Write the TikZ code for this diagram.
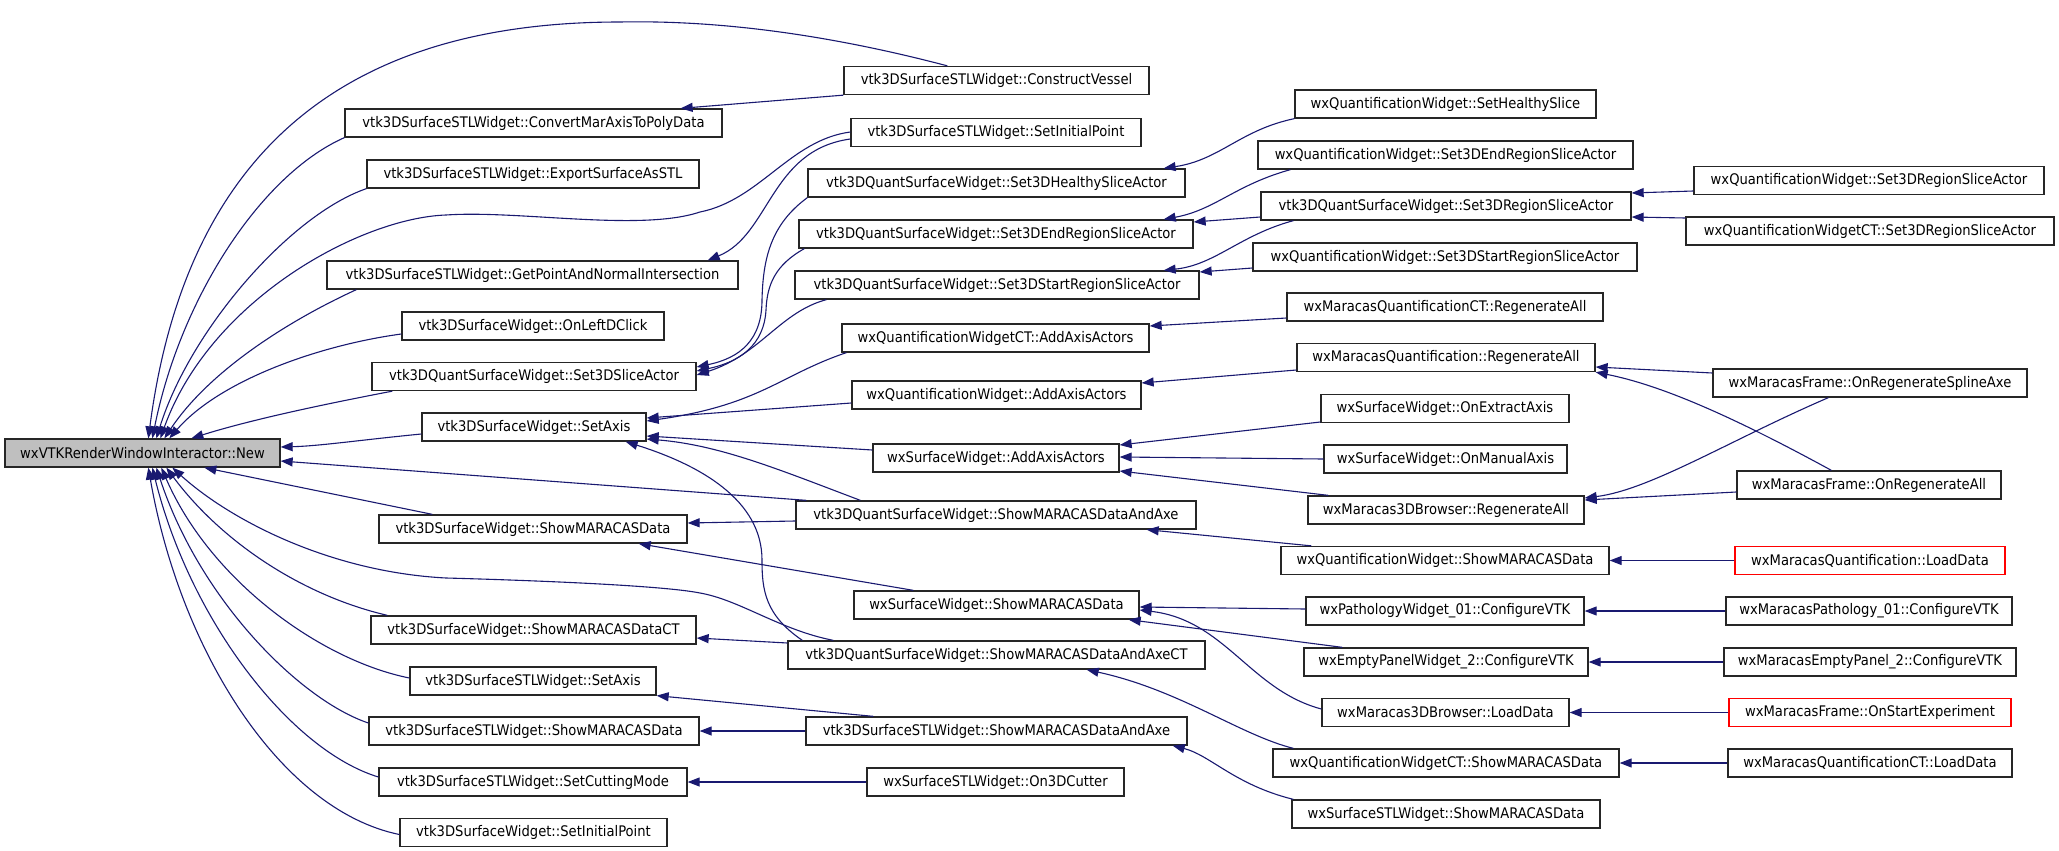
\documentclass[tikz,border=0pt]{standalone}
\usepackage{fontspec}
\setmainfont{DejaVu Sans Condensed}
\usetikzlibrary{arrows.meta}
\definecolor{edgec}{RGB}{25,25,112}
\definecolor{rootfill}{RGB}{191,191,191}
\tikzset{
  fn/.style={draw=black!85, line width=1.3pt, minimum height=28pt, inner sep=0pt, font=\fontsize{14.6pt}{17pt}\selectfont, anchor=center},
  redn/.style={fn, draw=red},
  cl/.style={draw=edgec, line width=1.1pt, -{Triangle[length=12pt,width=9pt]}},
}
\begin{document}
\begin{tikzpicture}[x=1pt,y=-1pt]
\useasboundingbox (0,0) rectangle (2059,851);
% column 0
\node[fn, fill=rootfill, minimum width=275pt] (root) at (142.5,453) {wxVTKRenderWindowInteractor::New};
% column 1
\node[fn, minimum width=377pt] (cm) at (533.5,123) {vtk3DSurfaceSTLWidget::ConvertMarAxisToPolyData};
\node[fn, minimum width=332pt] (ex) at (533,174) {vtk3DSurfaceSTLWidget::ExportSurfaceAsSTL};
\node[fn, minimum width=411pt] (gp) at (532.5,275) {vtk3DSurfaceSTLWidget::GetPointAndNormalIntersection};
\node[fn, minimum width=262pt] (ld) at (533,326) {vtk3DSurfaceWidget::OnLeftDClick};
\node[fn, minimum width=324pt] (sa) at (534,376.5) {vtk3DQuantSurfaceWidget::Set3DSliceActor};
\node[fn, minimum width=224pt] (ax) at (534,427) {vtk3DSurfaceWidget::SetAxis};
\node[fn, minimum width=308pt] (smd) at (533,529) {vtk3DSurfaceWidget::ShowMARACASData};
\node[fn, minimum width=325pt] (smdct) at (533.5,630) {vtk3DSurfaceWidget::ShowMARACASDataCT};
\node[fn, minimum width=246pt] (sax) at (533,681) {vtk3DSurfaceSTLWidget::SetAxis};
\node[fn, minimum width=330pt] (ssmd) at (534,731) {vtk3DSurfaceSTLWidget::ShowMARACASData};
\node[fn, minimum width=308pt] (scm) at (533,782) {vtk3DSurfaceSTLWidget::SetCuttingMode};
\node[fn, minimum width=267pt] (swip) at (533.5,832.5) {vtk3DSurfaceWidget::SetInitialPoint};
% column 2
\node[fn, minimum width=305pt] (cv) at (996.5,80.5) {vtk3DSurfaceSTLWidget::ConstructVessel};
\node[fn, minimum width=290pt] (sip) at (996,132.5) {vtk3DSurfaceSTLWidget::SetInitialPoint};
\node[fn, minimum width=377pt] (hs) at (996.5,183) {vtk3DQuantSurfaceWidget::Set3DHealthySliceActor};
\node[fn, minimum width=394pt] (er) at (996,234) {vtk3DQuantSurfaceWidget::Set3DEndRegionSliceActor};
\node[fn, minimum width=404pt] (sr) at (997,285) {vtk3DQuantSurfaceWidget::Set3DStartRegionSliceActor};
\node[fn, minimum width=307pt] (qcaa) at (995.5,338) {wxQuantificationWidgetCT::AddAxisActors};
\node[fn, minimum width=289pt] (qaa) at (996.5,395) {wxQuantificationWidget::AddAxisActors};
\node[fn, minimum width=246pt] (saa) at (996,458) {wxSurfaceWidget::AddAxisActors};
\node[fn, minimum width=400pt] (sda) at (996,515) {vtk3DQuantSurfaceWidget::ShowMARACASDataAndAxe};
\node[fn, minimum width=285pt] (wsmd) at (996.5,605) {wxSurfaceWidget::ShowMARACASData};
\node[fn, minimum width=417pt] (sdact) at (996.5,655) {vtk3DQuantSurfaceWidget::ShowMARACASDataAndAxeCT};
\node[fn, minimum width=381pt] (ssda) at (996.5,731) {vtk3DSurfaceSTLWidget::ShowMARACASDataAndAxe};
\node[fn, minimum width=257pt] (cut) at (995.5,782) {wxSurfaceSTLWidget::On3DCutter};
% column 3
\node[fn, minimum width=301pt] (qhs) at (1445.5,104) {wxQuantificationWidget::SetHealthySlice};
\node[fn, minimum width=375pt] (qer) at (1445.5,155) {wxQuantificationWidget::Set3DEndRegionSliceActor};
\node[fn, minimum width=370pt] (rs) at (1446,206) {vtk3DQuantSurfaceWidget::Set3DRegionSliceActor};
\node[fn, minimum width=384pt] (qsr) at (1445,257) {wxQuantificationWidget::Set3DStartRegionSliceActor};
\node[fn, minimum width=316pt] (mqcra) at (1445,307) {wxMaracasQuantificationCT::RegenerateAll};
\node[fn, minimum width=298pt] (mqra) at (1446,357.5) {wxMaracasQuantification::RegenerateAll};
\node[fn, minimum width=248pt] (oea) at (1445,408.5) {wxSurfaceWidget::OnExtractAxis};
\node[fn, minimum width=243pt] (oma) at (1445.5,459) {wxSurfaceWidget::OnManualAxis};
\node[fn, minimum width=276pt] (m3ra) at (1446,510) {wxMaracas3DBrowser::RegenerateAll};
\node[fn, minimum width=328pt] (qsmd) at (1445,560.5) {wxQuantificationWidget::ShowMARACASData};
\node[fn, minimum width=278pt] (pw) at (1445,611) {wxPathologyWidget\_01::ConfigureVTK};
\node[fn, minimum width=284pt] (ep) at (1446,662) {wxEmptyPanelWidget\_2::ConfigureVTK};
\node[fn, minimum width=247pt] (m3ld) at (1445.5,712.5) {wxMaracas3DBrowser::LoadData};
\node[fn, minimum width=346pt] (qcsmd) at (1446,763) {wxQuantificationWidgetCT::ShowMARACASData};
\node[fn, minimum width=308pt] (stsmd) at (1446,814) {wxSurfaceSTLWidget::ShowMARACASData};
% column 4
\node[fn, minimum width=350pt] (qrs) at (1869,180.5) {wxQuantificationWidget::Set3DRegionSliceActor};
\node[fn, minimum width=368pt] (qcrs) at (1870,231) {wxQuantificationWidgetCT::Set3DRegionSliceActor};
\node[fn, minimum width=314pt] (ors) at (1870,383) {wxMaracasFrame::OnRegenerateSplineAxe};
\node[fn, minimum width=264pt] (ora) at (1869,485) {wxMaracasFrame::OnRegenerateAll};
\node[redn, minimum width=270pt] (mqld) at (1870,560.5) {wxMaracasQuantification::LoadData};
\node[fn, minimum width=286pt] (mp) at (1869,611) {wxMaracasPathology\_01::ConfigureVTK};
\node[fn, minimum width=292pt] (mep) at (1870,662) {wxMaracasEmptyPanel\_2::ConfigureVTK};
\node[redn, minimum width=282pt] (ose) at (1870,712.5) {wxMaracasFrame::OnStartExperiment};
\node[fn, minimum width=284pt] (mqcld) at (1870,763) {wxMaracasQuantificationCT::LoadData};

% ---- edges into root (top)
\draw[cl] ([xshift=104pt]cv.north west) .. controls (830,35) and (720,20) .. (620,22) .. controls (380,22) and (190,120) .. ([xshift=144pt]root.north west);
\draw[cl] (cm.south west) .. controls (260,175) and (180,300) .. ([xshift=148pt]root.north west);
\draw[cl] (ex.south west) .. controls (290,215) and (190,330) .. ([xshift=152pt]root.north west);
\draw[cl] ([yshift=0.5pt]sip.west) .. controls (790,140) and (760,200) .. (700,212) .. controls (640,232) and (520,210) .. (446,215) .. controls (360,218) and (210,300) .. ([xshift=156pt]root.north west);
\draw[cl] ([xshift=30pt]gp.south west) .. controls (290,320) and (210,370) .. ([xshift=160pt]root.north west);
\draw[cl] ([yshift=-8pt]ld.west) .. controls (320,345) and (220,380) .. ([xshift=165pt]root.north west);
\draw[cl] ([xshift=21pt]sa.south west) .. controls (320,405) and (250,420) .. ([xshift=187pt]root.north west);
% right
\draw[cl] ([yshift=-7pt]ax.west) .. controls (360,440) and (320,446) .. ([yshift=6pt]root.east);
\draw[cl] ([xshift=11pt]sda.north west) -- ([yshift=-8pt]root.east);
% bottom
\draw[cl] ([xshift=54pt]smd.north west) -- ([xshift=200pt]root.south west);
\draw[cl] ([xshift=46pt]sdact.north west) .. controls (780,630) and (740,600) .. (700,593) .. controls (660,585) and (520,580) .. (446,578) .. controls (330,572) and (230,520) .. ([xshift=168pt]root.south west);
\draw[cl] ([xshift=17pt]smdct.north west) .. controls (300,595) and (220,540) .. ([xshift=162pt]root.south west);
\draw[cl] ([yshift=3pt]sax.west) .. controls (320,660) and (210,580) .. ([xshift=157pt]root.south west);
\draw[cl] ([yshift=8pt]ssmd.west) .. controls (300,700) and (200,600) .. ([xshift=152pt]root.south west);
\draw[cl] ([yshift=5pt]scm.west) .. controls (290,750) and (190,620) .. ([xshift=148pt]root.south west);
\draw[cl] ([yshift=-2pt]swip.west) .. controls (280,810) and (180,650) .. ([xshift=144pt]root.south west);

% ---- other edges
\draw[cl] (cv.south west) -- ([xshift=-42pt]cm.north east);
\draw[cl] ([yshift=-6.5pt]sip.west) .. controls (770,150) and (770,235) .. ([xshift=-31pt]gp.north east);
\draw[cl] (hs.south west) .. controls (770,225) and (763,260) .. (762,300) .. controls (762,340) and (740,358) .. ([yshift=9.5pt]sa.east);
\draw[cl] ([xshift=6pt]er.south west) .. controls (775,265) and (767,285) .. (766,310) .. controls (764,345) and (740,362) .. ([yshift=5.5pt]sa.east);
\draw[cl] ([xshift=32pt]sr.south west) .. controls (780,312) and (760,355) .. ([yshift=1.5pt]sa.east);
\draw[cl] (qhs.south west) .. controls (1240,130) and (1220,160) .. ([xshift=-22pt]hs.north east);
\draw[cl] ([xshift=33pt]qer.south west) .. controls (1235,185) and (1215,210) .. ([xshift=-30pt]er.north east);
\draw[cl] ([yshift=-11pt]rs.west) -- ([yshift=12pt]er.east);
\draw[cl] ([xshift=33pt]rs.south west) .. controls (1240,235) and (1215,265) .. ([xshift=-36pt]sr.north east);
\draw[cl] ([yshift=-11pt]qsr.west) -- ([yshift=13pt]sr.east);
\draw[cl] ([yshift=-10.5pt]qrs.west) -- ([yshift=13pt]rs.east);
\draw[cl] ([yshift=13pt]qcrs.west) -- ([yshift=-11pt]rs.east);
\draw[cl] ([yshift=-11pt]mqcra.west) -- ([yshift=12pt]qcaa.east);
\draw[cl] ([yshift=-12.5pt]mqra.west) -- ([yshift=12pt]qaa.east);
\draw[cl] ([yshift=10pt]ors.west) -- ([yshift=-9.5pt]mqra.east);
\draw[cl] ([xshift=95pt]ora.north west) .. controls (1730,415) and (1660,385) .. (mqra.south east);
\draw[cl] ([xshift=116pt]ors.south west) .. controls (1730,440) and (1650,490) .. ([yshift=12pt]m3ra.east);
\draw[cl] ([yshift=-7pt]ora.west) -- ([yshift=10pt]m3ra.east);
\draw[cl] ([yshift=-13.5pt]oea.west) -- ([yshift=13pt]saa.east);
\draw[cl] (oma.west) -- ([yshift=1pt]saa.east);
\draw[cl] ([xshift=21pt]m3ra.north west) -- ([yshift=-13pt]saa.east);
\draw[cl] ([xshift=31pt]qsmd.north west) -- ([xshift=-50pt]sda.south east);
\draw[cl] (mqld.west) -- (qsmd.east);
\draw[cl] ([yshift=2pt]pw.west) -- ([yshift=-2pt]wsmd.east);
\draw[cl] ([xshift=39pt]ep.north west) -- ([xshift=-11pt]wsmd.south east);
\draw[cl] ([yshift=3.5pt]m3ld.west) .. controls (1250,690) and (1225,620) .. ([yshift=-5pt]wsmd.east);
\draw[cl] (mp.west) -- (pw.east);
\draw[cl] (mep.west) -- (ep.east);
\draw[cl] (ose.west) -- (m3ld.east);
\draw[cl] (mqcld.west) -- (qcsmd.east);
\draw[cl] ([xshift=21pt]qcsmd.north west) .. controls (1240,735) and (1180,690) .. ([xshift=-119pt]sdact.south east);
\draw[cl] ([xshift=2pt]stsmd.north west) .. controls (1235,785) and (1210,755) .. ([xshift=-15pt]ssda.south east);
\draw[cl] ([xshift=5pt]qcaa.south west) .. controls (780,375) and (760,405) .. ([yshift=6pt]ax.east);
\draw[cl] ([yshift=-8pt]qaa.west) -- ([yshift=9pt]ax.east);
\draw[cl] ([yshift=8pt]saa.west) -- ([yshift=-9pt]ax.east);
\draw[cl] ([xshift=65pt]sda.north west) .. controls (780,470) and (720,445) .. ([yshift=-12pt]ax.east);
\draw[cl] ([xshift=15pt]sdact.north west) .. controls (765,615) and (762,590) .. (762,560) .. controls (762,500) and (700,465) .. ([xshift=-21pt]ax.south east);
\draw[cl] ([yshift=12pt]sdact.west) -- ([yshift=-8pt]smdct.east);
\draw[cl] ([yshift=-6pt]sda.west) -- ([yshift=6pt]smd.east);
\draw[cl] ([xshift=60pt]wsmd.north west) -- ([xshift=-49pt]smd.south east);
\draw[cl] ([xshift=68pt]ssda.north west) -- (sax.south east);
\draw[cl] (ssda.west) -- (ssmd.east);
\draw[cl] (cut.west) -- (scm.east);
\end{tikzpicture}
\end{document}
